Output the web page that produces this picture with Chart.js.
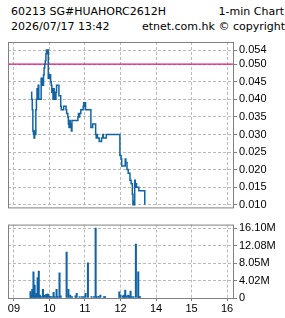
<!DOCTYPE html>
<html>
<head>
<meta charset="utf-8">
<script src="https://cdn.jsdelivr.net/npm/chart.js@4"></script>
<style>
  html, body { margin: 0; padding: 0; background: #fff; }
  body { width: 285px; height: 318px; position: relative; overflow: hidden;
         font-family: "DejaVu Sans", sans-serif; font-size: 11px; color: #000; }
  .t { position: absolute; line-height: 13px; white-space: nowrap; }
  canvas { position: absolute; left: 0; }
</style>
</head>
<body>
<div class="t" style="left:11px;top:5px">60213 SG#HUAHORC2612H</div>
<div class="t" style="right:1px;top:5px">1-min Chart</div>
<div class="t" style="left:11px;top:20px">2026/07/17 13:42</div>
<div class="t" style="right:0;top:20px">etnet.com.hk © copyright</div>
<canvas id="priceChart" width="285" height="216" style="top:0"></canvas>
<canvas id="volChart" width="285" height="102" style="top:216px"></canvas>
<script>
// x = minutes from 09:00, lunch hour squeezed out (12 -> 13:00)
const hourTicks = [0, 60, 120, 180, 240, 300, 360];
const hourLabels = ['09', '10', '11', '12', '14', '15', '16'];

const priceTicks = [0.010, 0.015, 0.020, 0.025, 0.030, 0.035, 0.040, 0.045, 0.050, 0.054];
const volTicks = [0, 4.025e6, 8.05e6, 12.075e6, 16.1e6];
const volTickLabels = ['0', '4.02M', '8.05M', '12.08M', '16.10M'];

const refPrice = 0.050;

const priceTimes = [29, 30, 31, 32, 33, 34, 35, 36, 37, 38, 39, 40, 41, 42, 46, 47, 48, 49, 50,
  51, 52, 53, 54, 55, 56, 57, 58, 59, 60, 61, 62, 63, 64, 65, 66, 67, 68, 69, 70, 71, 72, 76,
  79, 80, 84, 88, 89, 91, 92, 93, 94, 95, 96, 97, 98, 108, 109, 110, 111, 113, 117, 118, 119,
  120, 121, 130, 133, 138, 139, 140, 141, 144, 148, 150, 151, 156, 179, 181, 182, 188, 189,
  191, 193, 196, 198, 200, 201, 202, 203, 204, 205, 206, 207, 211, 221];
const prices = [0.042, 0.040, 0.037, 0.031, 0.030, 0.029, 0.031, 0.030, 0.037, 0.040, 0.043,
  0.040, 0.044, 0.040, 0.046, 0.044, 0.046, 0.044, 0.047, 0.049, 0.050, 0.051, 0.053, 0.054,
  0.053, 0.054, 0.046, 0.047, 0.046, 0.047, 0.045, 0.044, 0.042, 0.043, 0.040, 0.043, 0.040,
  0.042, 0.040, 0.042, 0.044, 0.041, 0.038, 0.037, 0.038, 0.037, 0.036, 0.035, 0.033, 0.032,
  0.034, 0.032, 0.033, 0.031, 0.034, 0.035, 0.036, 0.035, 0.036, 0.037, 0.038, 0.039, 0.038,
  0.039, 0.037, 0.032, 0.033, 0.030, 0.029, 0.030, 0.029, 0.028, 0.029, 0.030, 0.029, 0.030,
  0.024, 0.023, 0.021, 0.023, 0.022, 0.020, 0.019, 0.017, 0.016, 0.013, 0.010, 0.011, 0.010,
  0.017, 0.015, 0.016, 0.015, 0.014, 0.010];

const volTimes = [28, 29, 31, 33, 35, 36, 38, 40, 42, 44, 46, 49, 51, 54, 56, 58, 61, 64, 67,
  69, 72, 74, 77, 79, 89, 92, 95, 98, 104, 106, 111, 115, 118, 121, 125, 131, 135, 138, 140,
  143, 146, 152, 154, 178, 180, 184, 186, 188, 190, 193, 195, 197, 199, 202, 206, 210, 211, 213];
const volumes = [1.5e6, 0.7e6, 2.0e6, 6.0e6, 3.0e6, 0.6e6, 1.1e6, 4.7e6, 6.2e6, 0.7e6, 0.3e6,
  2.0e6, 0.6e6, 0.8e6, 0.9e6, 0.9e6, 0.4e6, 0.3e6, 1.3e6, 0.3e6, 2.0e6, 0.3e6, 5.8e6, 0.5e6,
  10.6e6, 2.0e6, 0.7e6, 0.3e6, 0.5e6, 1.1e6, 0.3e6, 0.3e6, 0.3e6, 1.1e6, 8.1e6, 0.3e6, 0.3e6,
  16.1e6, 0.3e6, 0.4e6, 0.7e6, 0.3e6, 0.3e6, 1.4e6, 0.7e6, 0.5e6, 0.7e6, 1.8e6, 0.5e6, 0.7e6,
  0.5e6, 1.6e6, 0.3e6, 0.3e6, 12.4e6, 6.0e6, 0.3e6, 0.3e6];

const X_MIN = -10, X_MAX = 370;
const BLUE = '#1064a6';
const GRID = '#bbbbbb';
const AXIS = '#808080';
const tickFont = { family: '"Liberation Sans", Arial, sans-serif', size: 11 };

// grey box round the plot area
const framePlugin = {
  id: 'frame',
  afterDraw(chart) {
    const { ctx, chartArea: a } = chart;
    ctx.save();
    ctx.strokeStyle = AXIS;
    ctx.lineWidth = 1;
    ctx.strokeRect(a.left + 0.5, a.top + 0.5, a.right - a.left, a.bottom - a.top);
    ctx.restore();
  }
};

function hourAxis(showLabels, height) {
  return {
    type: 'linear',
    min: X_MIN,
    max: X_MAX,
    offset: false,
    afterBuildTicks: axis => { axis.ticks = hourTicks.map(v => ({ value: v })); },
    afterFit: axis => { axis.height = height; },
    grid: {
      color: GRID, offset: false, drawTicks: showLabels, tickLength: 3,
      tickColor: AXIS, tickBorderDash: []
    },
    border: { display: false, dash: [3, 2] },
    ticks: {
      display: showLabels, autoSkip: false, maxRotation: 0, padding: 1,
      color: '#000', font: tickFont,
      callback: (v, i) => hourLabels[i]
    }
  };
}

function rightAxis(min, max, tickValues, fmt) {
  return {
    position: 'right',
    min: min,
    max: max,
    afterBuildTicks: axis => { axis.ticks = tickValues.map(v => ({ value: v })); },
    afterFit: axis => { axis.width = 52; },
    grid: { color: GRID, tickLength: 4, tickColor: AXIS, tickBorderDash: [] },
    border: { display: false, dash: [3, 2] },
    ticks: { padding: 2, color: '#000', font: tickFont, callback: fmt }
  };
}

new Chart(document.getElementById('priceChart'), {
  type: 'line',
  data: {
    datasets: [{
      data: priceTimes.map((t, i) => ({ x: t, y: prices[i] })),
      borderColor: BLUE,
      borderWidth: 1.5,
      stepped: true,
      pointRadius: 0
    }, {
      data: [{ x: X_MIN, y: refPrice }, { x: X_MAX, y: refPrice }],
      borderColor: '#e6157b',
      borderWidth: 1.2,
      pointRadius: 0
    }]
  },
  options: {
    responsive: false,
    animation: false,
    events: [],
    layout: { padding: { left: 8, top: 42, right: 0, bottom: 0 } },
    plugins: { legend: { display: false }, tooltip: { enabled: false } },
    scales: {
      x: hourAxis(false, 5),
      y: rightAxis(0.00925, 0.05631, priceTicks, v => v.toFixed(3))
    }
  },
  plugins: [framePlugin]
});

new Chart(document.getElementById('volChart'), {
  type: 'bar',
  data: {
    datasets: [{
      data: volTimes.map((t, i) => ({ x: t, y: volumes[i] })),
      backgroundColor: BLUE,
      barThickness: 1.4
    }]
  },
  options: {
    responsive: false,
    animation: false,
    events: [],
    layout: { padding: { left: 8, top: 5, right: 0, bottom: 0 } },
    plugins: { legend: { display: false }, tooltip: { enabled: false } },
    scales: {
      x: hourAxis(true, 20),
      y: rightAxis(0, 16.9e6, volTicks, (v, i) => volTickLabels[i])
    }
  },
  plugins: [framePlugin]
});
</script>
</body>
</html>
